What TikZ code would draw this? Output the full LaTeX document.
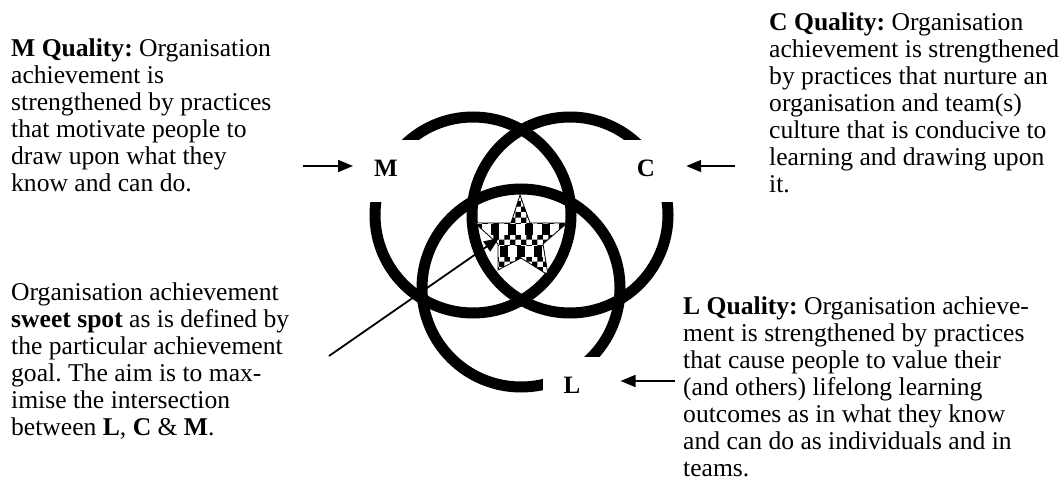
\documentclass[tikz,border=0pt]{standalone}
\usepackage{fontspec}
\setmainfont{Liberation Serif}
\usetikzlibrary{arrows.meta,patterns}
\frenchspacing
\begin{document}
\begin{tikzpicture}[x=1pt,y=-1pt,
  ring/.style={line width=11pt},
  lab/.style={font=\fontsize{25}{27}\selectfont\bfseries, inner sep=0pt},
  blurb/.style={font=\fontsize{25.6}{27}\selectfont, align=left, anchor=north west, inner sep=0pt},
  ptr/.style={line width=1.8pt,-{Triangle[length=15pt,width=12pt]}}]
\useasboundingbox (0,0) rectangle (1064,494);
% rings
\draw[ring] (473,215) circle[radius=98];
\draw[ring] (570,215) circle[radius=98];
\draw[ring] (521,288) circle[radius=99];
% white covers behind the letters
\fill[white] (355,140) rectangle (426,202);
\fill[white] (618,140) rectangle (690,202);
\fill[white] (543,357) rectangle (615,402);
% star
\def\starpath{(520,195) -- (530,223) -- (567,223) -- (543,244) -- (548,275) -- (521,258) -- (498,270) -- (498,244) -- (475,223) -- (511,223) -- cycle}
\begin{scope}
  \clip \starpath;
  \fill[white] (470,190) rectangle (570,280);
  \fill[pattern=checkerboard] (470,190) rectangle (570,280);
  \fill[white] (470,224) rectangle (570,235);
  \fill[white] (470,246) rectangle (570,257);
  \foreach \i in {0,...,5} {
    \fill (474+17*\i,224) rectangle +(8,11);
    \fill (482.5+17*\i,246) rectangle +(8,11);
  }
\end{scope}
\draw[line width=0.8pt] \starpath;
% labels
\node[lab] (mlab) at (386,168) {M};
\node[lab] (clab) at (646,168) {C};
\node[lab] (llab) at (572,385) {L};
% text blocks
\node[blurb] (mtext) at (11,38.5) {\textbf{M Quality:} Organisation\\achievement is\\strengthened by practices\\that motivate people to\\draw upon what they\\know and can do.};
\node[blurb] (ctext) at (769,12.5) {\textbf{C Quality:} Organisation\\achievement is strengthened\\by practices that nurture an\\organisation and team(s)\\culture that is conducive to\\learning and drawing upon\\it.};
\node[blurb] (ltext) at (683,296.5) {\textbf{L Quality:} Organisation achieve-\\ment is strengthened by practices\\that cause people to value their\\(and others) lifelong learning\\outcomes as in what they know\\and can do as individuals and in\\teams.};
\node[blurb] (stext) at (11,282.5) {Organisation achievement\\\textbf{sweet spot} as is defined by\\the particular achievement\\goal. The aim is to max-\\imise the intersection\\between \textbf{L}, \textbf{C} \& \textbf{M}.};
% arrows
\coordinate (mtail) at (303,166);
\coordinate (ctail) at (735,166);
\coordinate (ltail) at (675,381);
\coordinate (spottail) at (329,356);
\coordinate (spottip) at (499,238);
\draw[ptr, shorten >=21pt] (mtail) -- (mtail -| mlab.west);
\draw[ptr, shorten >=31pt] (ctail) -- (ctail -| clab.east);
\draw[ptr, shorten >=40pt] (ltail) -- (ltail -| llab.east);
\draw[ptr] (spottail) -- (spottip);
\end{tikzpicture}
\end{document}
